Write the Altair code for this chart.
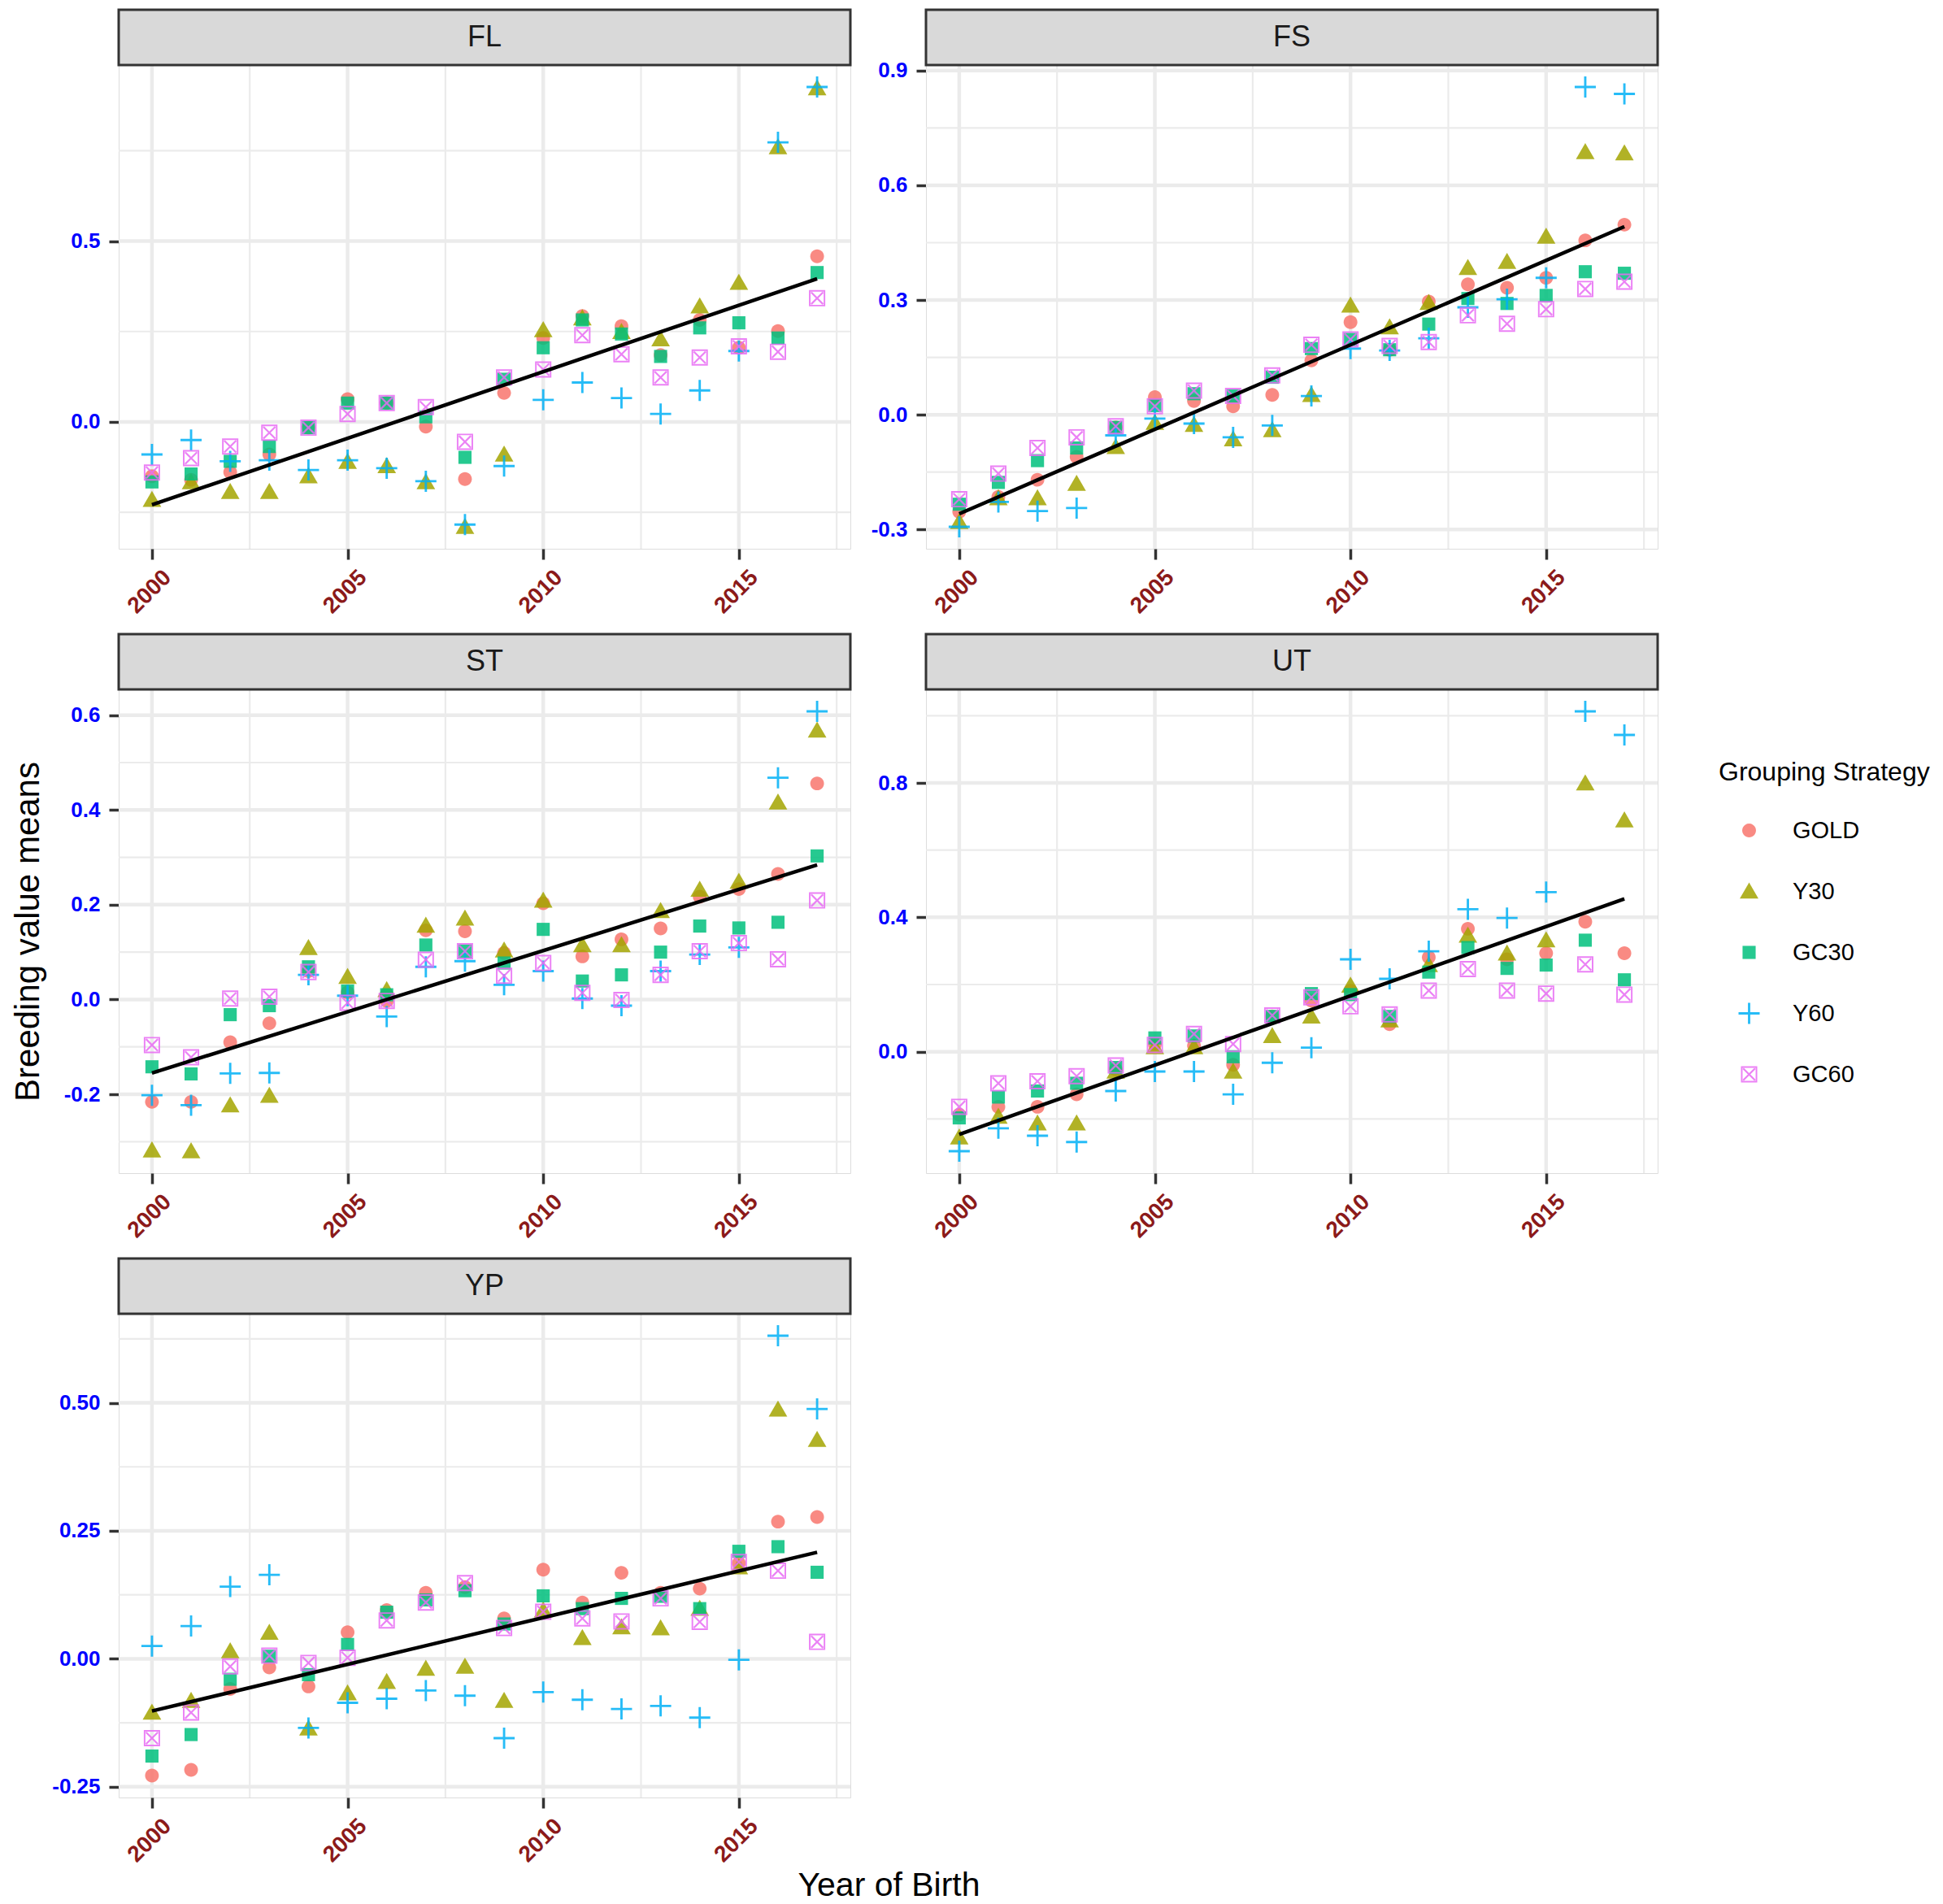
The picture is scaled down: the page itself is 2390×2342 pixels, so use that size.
import altair as alt
import pandas as pd

years = list(range(2000, 2018))
strategies = ["GOLD", "Y30", "GC30", "Y60", "GC60"]
colors = ["#F8766D", "#A3A500", "#00BF7D", "#00B0F6", "#E76BF3"]
panel_names = ["FL", "FS", "ST", "UT", "YP"]

# ---- FL ----
fl_gold = [-0.150, -0.160, -0.139, -0.090, -0.016, 0.063, 0.052, -0.013, -0.158, 0.080, 0.232, 0.293, 0.265, 0.185, 0.282, 0.205, 0.251, 0.458]
fl_y30 = [-0.215, -0.166, -0.193, -0.193, -0.150, -0.110, -0.122, -0.166, -0.290, -0.090, 0.254, 0.287, 0.249, 0.229, 0.320, 0.385, 0.760, 0.923]
fl_gc30 = [-0.166, -0.144, -0.109, -0.068, -0.016, 0.052, 0.052, 0.014, -0.098, 0.118, 0.205, 0.282, 0.243, 0.181, 0.260, 0.274, 0.232, 0.413]
fl_y60 = [-0.090, -0.050, -0.109, -0.106, -0.133, -0.106, -0.128, -0.164, -0.284, -0.122, 0.061, 0.109, 0.066, 0.022, 0.087, 0.196, 0.773, 0.926]
fl_gc60 = [-0.140, -0.100, -0.068, -0.030, -0.016, 0.022, 0.052, 0.041, -0.055, 0.123, 0.145, 0.240, 0.187, 0.123, 0.178, 0.209, 0.194, 0.342]
# ---- FS ----
fs_gold = [-0.254, -0.215, -0.170, -0.110, -0.033, 0.046, 0.036, 0.022, 0.052, 0.142, 0.242, 0.170, 0.296, 0.341, 0.332, 0.358, 0.456, 0.497]
fs_y30 = [-0.280, -0.218, -0.218, -0.180, -0.084, -0.021, -0.026, -0.064, -0.040, 0.052, 0.286, 0.229, 0.293, 0.384, 0.400, 0.466, 0.687, 0.684]
fs_gc30 = [-0.234, -0.177, -0.120, -0.087, -0.033, 0.024, 0.055, 0.049, 0.098, 0.173, 0.197, 0.170, 0.237, 0.304, 0.291, 0.312, 0.374, 0.370]
fs_y60 = [-0.293, -0.228, -0.252, -0.244, -0.054, -0.010, -0.023, -0.059, -0.028, 0.049, 0.173, 0.168, 0.200, 0.281, 0.302, 0.358, 0.857, 0.839]
fs_gc60 = [-0.221, -0.154, -0.087, -0.059, -0.030, 0.022, 0.063, 0.049, 0.103, 0.183, 0.197, 0.180, 0.190, 0.260, 0.238, 0.276, 0.329, 0.348]
# ---- ST ----
st_gold = [-0.216, -0.216, -0.090, -0.050, 0.060, 0.015, -0.003, 0.146, 0.144, 0.098, 0.203, 0.091, 0.127, 0.150, 0.217, 0.233, 0.265, 0.456]
st_y30 = [-0.318, -0.320, -0.223, -0.203, 0.109, 0.048, 0.020, 0.156, 0.171, 0.104, 0.209, 0.115, 0.115, 0.187, 0.232, 0.249, 0.416, 0.568]
st_gc30 = [-0.142, -0.157, -0.032, -0.013, 0.069, 0.018, 0.010, 0.115, 0.102, 0.077, 0.148, 0.039, 0.052, 0.100, 0.155, 0.151, 0.163, 0.303]
st_y60 = [-0.202, -0.223, -0.156, -0.155, 0.052, 0.008, -0.036, 0.069, 0.081, 0.031, 0.060, 0.002, -0.013, 0.060, 0.095, 0.110, 0.468, 0.608]
st_gc60 = [-0.096, -0.122, 0.002, 0.006, 0.058, -0.007, -0.003, 0.084, 0.102, 0.050, 0.077, 0.014, -0.001, 0.052, 0.102, 0.119, 0.085, 0.209]
# ---- UT ----
ut_gold = [-0.187, -0.164, -0.164, -0.127, -0.053, 0.023, 0.018, -0.039, 0.105, 0.152, 0.182, 0.082, 0.281, 0.366, 0.275, 0.293, 0.387, 0.293]
ut_y30 = [-0.255, -0.193, -0.213, -0.213, -0.059, 0.014, 0.014, -0.059, 0.047, 0.105, 0.197, 0.094, 0.258, 0.346, 0.293, 0.332, 0.799, 0.689]
ut_gc30 = [-0.197, -0.135, -0.117, -0.094, -0.047, 0.041, 0.047, -0.015, 0.105, 0.173, 0.170, 0.105, 0.237, 0.310, 0.248, 0.258, 0.332, 0.214]
ut_y60 = [-0.296, -0.228, -0.250, -0.269, -0.117, -0.059, -0.059, -0.127, -0.033, 0.012, 0.275, 0.217, 0.299, 0.424, 0.398, 0.475, 1.013, 0.943]
ut_gc60 = [-0.164, -0.094, -0.088, -0.073, -0.041, 0.020, 0.053, 0.023, 0.108, 0.162, 0.135, 0.111, 0.182, 0.246, 0.182, 0.173, 0.260, 0.170]
# ---- YP ----
yp_gold = [-0.228, -0.217, -0.059, -0.017, -0.054, 0.052, 0.095, 0.129, 0.140, 0.079, 0.174, 0.110, 0.168, 0.129, 0.137, 0.187, 0.268, 0.277]
yp_y30 = [-0.105, -0.082, 0.015, 0.051, -0.136, -0.067, -0.045, -0.019, -0.015, -0.082, 0.095, 0.041, 0.062, 0.060, 0.098, 0.179, 0.487, 0.428]
yp_gc30 = [-0.190, -0.148, -0.040, 0.005, -0.031, 0.028, 0.091, 0.115, 0.133, 0.068, 0.123, 0.098, 0.118, 0.122, 0.098, 0.210, 0.219, 0.169]
yp_y60 = [0.025, 0.064, 0.141, 0.164, -0.135, -0.086, -0.078, -0.062, -0.072, -0.155, -0.065, -0.080, -0.098, -0.092, -0.115, -0.002, 0.631, 0.488]
yp_gc60 = [-0.155, -0.105, -0.015, 0.006, -0.008, 0.002, 0.075, 0.110, 0.148, 0.060, 0.092, 0.079, 0.073, 0.118, 0.072, 0.189, 0.172, 0.033]

# black trend line (value at 2000 and at 2017) per panel
trend_years = [2000, 2017]
trend_fl = [-0.229, 0.396]
trend_fs = [-0.259, 0.492]
trend_st = [-0.155, 0.284]
trend_ut = [-0.246, 0.455]
trend_yp = [-0.102, 0.208]

# axis breaks
x_major = [2000, 2005, 2010, 2015]
x_minor = [2002.5, 2007.5, 2012.5, 2017.5]
fl_major, fl_minor = [0.0, 0.5], [-0.25, 0.25, 0.75]
fs_major, fs_minor = [-0.3, 0.0, 0.3, 0.6, 0.9], [-0.15, 0.15, 0.45, 0.75]
st_major, st_minor = [-0.2, 0.0, 0.2, 0.4, 0.6], [-0.3, -0.1, 0.1, 0.3, 0.5]
ut_major, ut_minor = [0.0, 0.4, 0.8], [-0.2, 0.2, 0.6, 1.0]
yp_major, yp_minor = [-0.25, 0.0, 0.25, 0.5], [-0.125, 0.125, 0.375, 0.625]

# ggplot-like symbols as custom paths (all drawn at one symbol size)
shape_paths = [
    "M-0.65,0A0.65,0.65 0 1,0 0.65,0A0.65,0.65 0 1,0 -0.65,0Z",
    "M0,-0.84L0.88,0.68L-0.88,0.68Z",
    "M-0.62,-0.62H0.62V0.62H-0.62Z",
    "M-1,-0.11H-0.11V-1H0.11V-0.11H1V0.11H0.11V1H-0.11V0.11H-1Z",
    "M-0.77,-0.77H0.77V0.77H-0.77Z M-0.62,-0.62V0.62H0.62V-0.62Z "
    "M-0.62,-0.5L-0.5,-0.62L0.62,0.5L0.5,0.62Z M0.5,-0.62L0.62,-0.5L-0.5,0.62L-0.62,0.5Z",
]

FONT = "Liberation Sans"
W, H = 900, 595
STRIP = 68
SYM = 676
x_domain = [1999.15, 2017.85]

legend = alt.Legend(
    title="Grouping Strategy", orient="none", legendX=1968, legendY=855,
    titleFontSize=32, titleFont=FONT, titleFontWeight="normal", titleColor="black",
    titleLimit=1000, labelLimit=1000,
    labelFontSize=29, labelFont=FONT, labelColor="black",
    symbolSize=SYM, symbolStrokeWidth=0, symbolOffset=23, labelOffset=39,
    rowPadding=45, titlePadding=40, padding=0,
)
color_scale = alt.Scale(domain=strategies, range=colors)
shape_scale = alt.Scale(domain=strategies, range=shape_paths)


def make_panel(name, series, trend, major, minor, fmt, ytitle=False, xtitle=False):
    rows = []
    for s in strategies:
        for yr, v in zip(years, series[s]):
            rows.append({"year": yr, "strategy": s, "value": v})
    pts = pd.DataFrame(rows)
    allv = [v for s in strategies for v in series[s]] + trend
    lo, hi = min(allv), max(allv)
    pad = 0.05 * (hi - lo)
    xs = alt.Scale(domain=x_domain, nice=False, zero=False)
    ys = alt.Scale(domain=[lo - pad, hi + pad], nice=False, zero=False)

    xaxis_kw = dict(
        values=x_major, format="d", labelAngle=315, labelAlign="right", labelBaseline="top",
        labelOffset=9, labelPadding=8, labelColor="#8B1A1A", labelFontSize=28,
        labelFontWeight="bold", labelFont=FONT, tickSize=13, tickWidth=3.5,
        tickColor="#333333", domain=False, grid=False, labelFlush=False, labelOverlap=False,
    )
    if xtitle:
        xaxis_kw.update(title="Year of Birth", titleX=947, titleY=108, titleAlign="center",
                        titleBaseline="middle", titleFontSize=41, titleFont=FONT,
                        titleFontWeight="normal", titleColor="black")
    else:
        xaxis_kw.update(title=None)
    yaxis_kw = dict(
        values=major,
        labelExpr="replace(format(datum.value, '%s'), '\u2212', '-')" % fmt,
        labelColor="blue", labelFontSize=26, labelFontWeight="bold", labelFont=FONT,
        labelPadding=11, tickSize=12, tickWidth=3.5, tickColor="#333333",
        domain=False, grid=False, labelFlush=False, labelOverlap=False,
    )
    if ytitle:
        yaxis_kw.update(title="Breeding value means", titleX=-112, titleY=H / 2,
                        titleAngle=270, titleAlign="center", titleBaseline="middle",
                        titleFontSize=42, titleFont=FONT, titleFontWeight="normal",
                        titleColor="black")
    else:
        yaxis_kw.update(title=None)
    xaxis = alt.Axis(**xaxis_kw)
    yaxis = alt.Axis(**yaxis_kw)

    grid_minor_y = alt.Chart(pd.DataFrame({"value": minor})).mark_rule(
        color="#EBEBEB", strokeWidth=2.2).encode(y=alt.Y("value:Q", scale=ys, axis=yaxis))
    grid_major_y = alt.Chart(pd.DataFrame({"value": major})).mark_rule(
        color="#EBEBEB", strokeWidth=4.5).encode(y=alt.Y("value:Q", scale=ys, axis=yaxis))
    grid_minor_x = alt.Chart(pd.DataFrame({"year": x_minor})).mark_rule(
        color="#EBEBEB", strokeWidth=2.2).encode(x=alt.X("year:Q", scale=xs, axis=xaxis))
    grid_major_x = alt.Chart(pd.DataFrame({"year": x_major})).mark_rule(
        color="#EBEBEB", strokeWidth=4.5).encode(x=alt.X("year:Q", scale=xs, axis=xaxis))

    points = alt.Chart(pts).mark_point(filled=True, size=SYM, opacity=0.85, strokeWidth=0).encode(
        x=alt.X("year:Q", scale=xs, axis=xaxis),
        y=alt.Y("value:Q", scale=ys, axis=yaxis),
        color=alt.Color("strategy:N", scale=color_scale, legend=legend),
        shape=alt.Shape("strategy:N", scale=shape_scale, legend=legend),
    )
    line = alt.Chart(pd.DataFrame({"year": trend_years, "value": trend})).mark_line(
        color="black", strokeWidth=4.5).encode(
        x=alt.X("year:Q", scale=xs, axis=xaxis),
        y=alt.Y("value:Q", scale=ys, axis=yaxis),
    )
    lab = pd.DataFrame({"panel": [name]})
    strip = alt.Chart(lab).mark_rect(fill="#D9D9D9", stroke="#333333", strokeWidth=3).encode(
        x=alt.value(0), x2=alt.value(W), y=alt.value(-STRIP), y2=alt.value(0))
    strip_text = alt.Chart(lab).mark_text(
        fontSize=36, font=FONT, color="#1A1A1A", baseline="middle", align="center").encode(
        x=alt.value(W / 2), y=alt.value(-STRIP / 2), text="panel:N")

    return alt.layer(grid_minor_y, grid_minor_x, grid_major_y, grid_major_x,
                     points, line, strip, strip_text).properties(width=W, height=H)


panels = [
    make_panel("FL", dict(zip(strategies, [fl_gold, fl_y30, fl_gc30, fl_y60, fl_gc60])), trend_fl, fl_major, fl_minor, ".1f"),
    make_panel("FS", dict(zip(strategies, [fs_gold, fs_y30, fs_gc30, fs_y60, fs_gc60])), trend_fs, fs_major, fs_minor, ".1f"),
    make_panel("ST", dict(zip(strategies, [st_gold, st_y30, st_gc30, st_y60, st_gc60])), trend_st, st_major, st_minor, ".1f", ytitle=True),
    make_panel("UT", dict(zip(strategies, [ut_gold, ut_y30, ut_gc30, ut_y60, ut_gc60])), trend_ut, ut_major, ut_minor, ".1f"),
    make_panel("YP", dict(zip(strategies, [yp_gold, yp_y30, yp_gc30, yp_y60, yp_gc60])), trend_yp, yp_major, yp_minor, ".2f", xtitle=True),
]

chart = alt.concat(*panels, columns=2, spacing={"row": 173, "column": 93}, bounds="flush").resolve_scale(
    y="independent"
).properties(
    padding={"left": 4, "top": 2, "right": 5, "bottom": 5}
).configure_view(
    stroke="#333333", strokeWidth=3
).configure(background="white")

chart.save("out.html", embed_options={"renderer": "svg", "actions": False})
